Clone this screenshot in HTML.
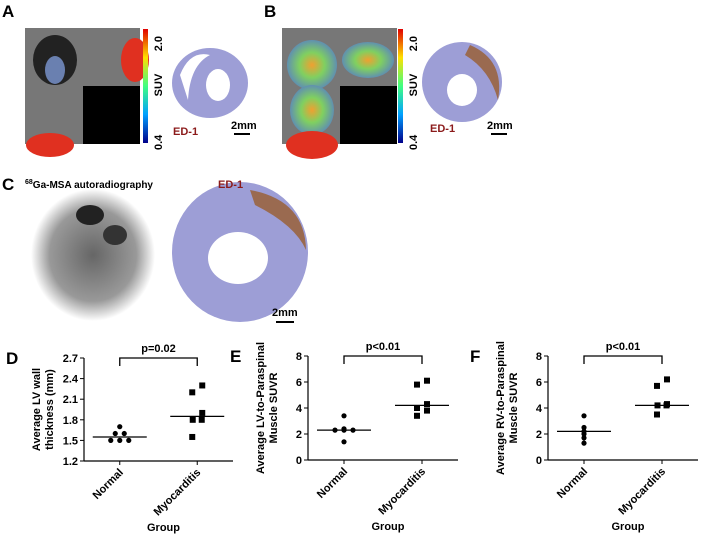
<!DOCTYPE html>
<html><head><meta charset="utf-8"><style>
body{margin:0;width:707px;height:540px;background:#fff;overflow:hidden;font-family:"Liberation Sans",Arial,sans-serif}
svg{position:absolute;left:0;top:0}
text{font-family:"Liberation Sans",Arial,sans-serif;font-weight:bold}
</style></head><body>
<svg width="707" height="540">
<defs>
<linearGradient id="cb" x1="0" y1="1" x2="0" y2="0"><stop offset="0" stop-color="#00008a"/><stop offset=".25" stop-color="#00a0ff"/><stop offset=".5" stop-color="#40ff80"/><stop offset=".75" stop-color="#ffe000"/><stop offset="1" stop-color="#e00000"/></linearGradient>
<radialGradient id="hot"><stop offset="0" stop-color="#f0a030"/><stop offset=".5" stop-color="#80d060"/><stop offset="1" stop-color="#6090b0"/></radialGradient>
<radialGradient id="ar"><stop offset="0" stop-color="#666"/><stop offset=".7" stop-color="#999"/><stop offset="1" stop-color="#fff"/></radialGradient>
</defs>
<text x="2" y="17" font-size="17">A</text>
<g>
<rect x="25" y="28" width="115" height="116" fill="#777"/>
<rect x="83" y="86" width="57" height="58" fill="#000"/>
<ellipse cx="55" cy="60" rx="22" ry="25" fill="#222"/>
<ellipse cx="55" cy="70" rx="10" ry="14" fill="#6a80b0"/>
<ellipse cx="135" cy="60" rx="14" ry="22" fill="#e03020"/>
<ellipse cx="50" cy="145" rx="24" ry="12" fill="#e03020"/>
</g>
<rect x="143" y="29" width="5" height="114" fill="url(#cb)"/>
<text transform="translate(162,36) rotate(-90)" font-size="11" text-anchor="end">2.0</text>
<text transform="translate(162,85) rotate(-90)" font-size="11" text-anchor="middle">SUV</text>
<text transform="translate(162,150) rotate(-90)" font-size="11" text-anchor="start">0.4</text>
<ellipse cx="210" cy="83" rx="38" ry="35" fill="#9d9ed6"/>
<ellipse cx="218" cy="85" rx="12" ry="16" fill="#fff"/>
<path d="M180 75 Q190 50 210 55 Q190 65 188 100 Z" fill="#fff"/>
<text x="173" y="135" font-size="11" fill="#8b1a1a">ED-1</text>
<text x="231" y="129" font-size="11" font-weight="normal" fill="#000">2mm</text>
<rect x="234" y="133" width="16" height="2" fill="#000"/>
<text x="264" y="17" font-size="17">B</text>
<g>
<rect x="282" y="28" width="115" height="116" fill="#777"/>
<rect x="340" y="86" width="57" height="58" fill="#000"/>
<ellipse cx="312" cy="65" rx="25" ry="25" fill="url(#hot)"/>
<ellipse cx="312" cy="110" rx="22" ry="25" fill="url(#hot)"/>
<ellipse cx="368" cy="60" rx="26" ry="18" fill="url(#hot)"/>
<ellipse cx="312" cy="145" rx="26" ry="14" fill="#e03020"/>
</g>
<rect x="398" y="29" width="5" height="114" fill="url(#cb)"/>
<text transform="translate(417,36) rotate(-90)" font-size="11" text-anchor="end">2.0</text>
<text transform="translate(417,85) rotate(-90)" font-size="11" text-anchor="middle">SUV</text>
<text transform="translate(417,150) rotate(-90)" font-size="11" text-anchor="start">0.4</text>
<ellipse cx="462" cy="82" rx="40" ry="40" fill="#9d9ed6"/>
<path d="M470 45 Q505 60 498 100 Q490 70 465 55 Z" fill="#9a6a50"/>
<ellipse cx="462" cy="90" rx="15" ry="16" fill="#fff"/>
<text x="430" y="132" font-size="11" fill="#8b1a1a">ED-1</text>
<text x="487" y="129" font-size="11" font-weight="normal">2mm</text>
<rect x="491" y="133" width="16" height="2" fill="#000"/>
<text x="2" y="190" font-size="17">C</text>
<text x="25" y="188" font-size="10"><tspan font-size="7" dy="-4">68</tspan><tspan dy="4">Ga-MSA autoradiography</tspan></text>
<ellipse cx="93" cy="255" rx="62" ry="66" fill="url(#ar)"/>
<ellipse cx="90" cy="215" rx="14" ry="10" fill="#222"/>
<ellipse cx="115" cy="235" rx="12" ry="10" fill="#333"/>
<ellipse cx="240" cy="252" rx="68" ry="70" fill="#9d9ed6"/>
<path d="M250 190 Q305 200 306 250 Q295 225 255 205 Z" fill="#9a6a50"/>
<ellipse cx="238" cy="258" rx="30" ry="26" fill="#fff"/>
<text x="218" y="188" font-size="11" fill="#8b1a1a">ED-1</text>
<text x="272" y="316" font-size="11" font-weight="normal">2mm</text>
<rect x="276" y="321" width="18" height="2" fill="#000"/>
<g id="charts"></g>
</svg>
<script>
const groups=["Normal","Myocarditis"];
const dNormal=[1.7,1.6,1.6,1.5,1.5,1.5];
const dMyo=[2.3,2.2,1.9,1.8,1.8,1.55];
const dMedians=[1.55,1.85];
const dTicks=[1.2,1.5,1.8,2.1,2.4,2.7];
const eNormal=[3.4,2.4,2.3,2.3,2.3,1.4];
const eMyo=[6.1,5.8,4.3,4.0,3.8,3.4];
const eMedians=[2.3,4.2];
const eTicks=[0,2,4,6,8];
const fNormal=[3.4,2.5,2.2,2.0,1.7,1.3];
const fMyo=[6.2,5.7,4.3,4.2,4.2,3.5];
const fMedians=[2.2,4.2];
const fTicks=[0,2,4,6,8];
const NS="http://www.w3.org/2000/svg";
const root=document.getElementById('charts');
function mk(tag,attrs,parent,txt){const e=document.createElementNS(NS,tag);for(const k in attrs)e.setAttribute(k,attrs[k]);if(txt!==undefined)e.textContent=txt;parent.appendChild(e);return e;}
function chart(id,letter,ax,x0,x1,yTop,yBot,ticks,series,medians,p,ylab){
  const g=mk('g',{},root);
  
  
  const lo=ticks[0],hi=ticks[ticks.length-1];
  const Y=v=>yBot-(v-lo)/(hi-lo)*(yBot-yTop);
  const gx=[x0+(x1-x0)*0.24,x0+(x1-x0)*0.76];
  const lab=mk('text',{x:ax-78,y:yTop+6,'font-size':17},g,letter);
  
  
  const ya=mk('line',{x1:x0,y1:yTop,x2:x0,y2:yBot,stroke:'#000','stroke-width':1.2},g);
  
  
  const xa=mk('line',{x1:x0,y1:yBot,x2:x1,y2:yBot,stroke:'#000','stroke-width':1.2},g);
  
  
  ticks.forEach(t=>{
    mk('line',{x1:x0-4,y1:Y(t),x2:x0,y2:Y(t),stroke:'#000'},g);
    const tl=mk('text',{x:x0-6,y:Y(t)+4,'font-size':11,'text-anchor':'end'},g,String(t));
    
    
  });
  groups.forEach((n,i)=>{
    mk('line',{x1:gx[i],y1:yBot,x2:gx[i],y2:yBot+4,stroke:'#000'},g);
    const xl=mk('text',{transform:`translate(${gx[i]+4},${yBot+12}) rotate(-45)`,'font-size':11,'text-anchor':'end'},g,n);
    
    
  });
  const gl=mk('text',{x:(x0+x1)/2+5,y:yBot+70,'font-size':11,'text-anchor':'middle'},g,'Group');
  
  
  const yl=mk('text',{transform:`translate(${ax-44},${(yTop+yBot)/2}) rotate(-90)`,'font-size':11,'text-anchor':'middle'},g);
  
  
  mk('tspan',{x:0,dy:0},yl,ylab[0]);mk('tspan',{x:0,dy:13},yl,ylab[1]);
  series.forEach((arr,i)=>{
    const counts={};
    arr.forEach(v=>counts[v]=(counts[v]||0)+1);
    const seen={};
    arr.forEach((v,j)=>{
      const n=counts[v],k=seen[v]=(seen[v]||0)+1;
      let cx;
      if(n>1)cx=gx[i]+(k-(n+1)/2)*9;
      else cx=gx[i]+(i===1?(j%2?-5:5):0);
      let m;
      if(i===0)m=mk('circle',{cx:cx,cy:Y(v),r:2.6,fill:'#000'},g);
      else m=mk('rect',{x:cx-3,y:Y(v)-3,width:6,height:6,fill:'#000'},g);
      
      
    });
    const md=mk('line',{x1:gx[i]-27,y1:Y(medians[i]),x2:gx[i]+27,y2:Y(medians[i]),stroke:'#000','stroke-width':1.2},g);
    
    
  });
  const br=mk('path',{d:`M${gx[0]} ${yTop+8} V${yTop} H${gx[1]} V${yTop+8}`,fill:'none',stroke:'#000','stroke-width':1.3},g);
  
  
  const pt=mk('text',{x:(gx[0]+gx[1])/2,y:yTop-6,'font-size':11,'text-anchor':'middle'},g,p);
  
  
}
chart('d','D',84,84,233,358,461,dTicks,[dNormal,dMyo],dMedians,'p=0.02',['Average LV wall','thickness (mm)']);
chart('e','E',308,308,458,356,460,eTicks,[eNormal,eMyo],eMedians,'p<0.01',['Average LV-to-Paraspinal','Muscle SUVR']);
chart('f','F',548,548,698,356,460,fTicks,[fNormal,fMyo],fMedians,'p<0.01',['Average RV-to-Paraspinal','Muscle SUVR']);
</script>
</body></html>
